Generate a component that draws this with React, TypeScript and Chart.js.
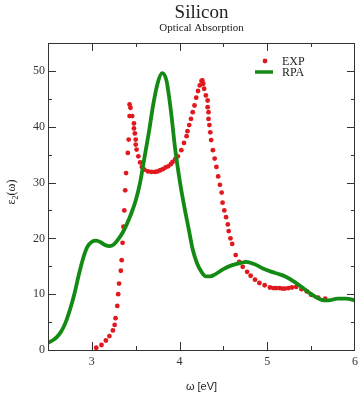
import React, { useEffect, useRef } from "react";
import { Chart, registerables } from "chart.js";
Chart.register(...registerables);

const expX = [3.05, 3.11, 3.16, 3.2, 3.24, 3.26, 3.27, 3.29, 3.3, 3.31, 3.33, 3.34, 3.35, 3.36, 3.37, 3.38, 3.39, 3.41, 3.42, 3.43, 3.43, 3.44, 3.46, 3.48, 3.48, 3.49, 3.5, 3.5, 3.51, 3.53, 3.55, 3.57, 3.6, 3.64, 3.68, 3.72, 3.75, 3.78, 3.81, 3.84, 3.87, 3.9, 3.92, 3.95, 3.98, 4.02, 4.05, 4.08, 4.09, 4.11, 4.13, 4.15, 4.17, 4.19, 4.21, 4.23, 4.25, 4.26, 4.27, 4.28, 4.3, 4.32, 4.32, 4.33, 4.33, 4.34, 4.35, 4.36, 4.38, 4.4, 4.42, 4.44, 4.46, 4.48, 4.49, 4.51, 4.53, 4.55, 4.56, 4.58, 4.6, 4.64, 4.68, 4.72, 4.77, 4.81, 4.86, 4.91, 4.97, 5.03, 5.07, 5.1, 5.14, 5.17, 5.2, 5.24, 5.28, 5.33, 5.39, 5.45, 5.5, 5.58, 5.66];
const expY = [0.4, 0.9, 1.7, 2.5, 3.5, 4.5, 5.7, 7.9, 10, 11.9, 14.2, 16.1, 19.2, 22.1, 25, 28.6, 31.7, 35.3, 37.7, 41.9, 44, 43.4, 41.9, 40.6, 39.7, 38.8, 37.7, 36.8, 35.9, 34.7, 33.6, 32.8, 32.3, 32, 31.9, 31.9, 32, 32.2, 32.4, 32.7, 32.9, 33.3, 33.7, 34.2, 34.7, 35.8, 37.1, 38.3, 39.2, 40.3, 41.4, 42.6, 43.8, 45.2, 46.4, 47.4, 48.2, 48.3, 47.7, 46.8, 45.6, 44.7, 43.5, 42.6, 41.4, 40.3, 39, 37.6, 35.8, 34.3, 32.8, 31.1, 29.6, 28.2, 26.4, 25, 23.8, 22.5, 21.3, 20, 19, 17, 15.8, 14.9, 14, 13.3, 12.6, 12, 11.6, 11.2, 11.1, 11.1, 11.1, 11.0, 11.0, 11.1, 11.2, 11.3, 10.9, 10.5, 9.9, 9.4, 9.2];

const rpaX = [2.5, 2.55, 2.6, 2.65, 2.7, 2.75, 2.8, 2.85, 2.9, 2.95, 3.0, 3.05, 3.1, 3.15, 3.2, 3.25, 3.3, 3.35, 3.4, 3.45, 3.5, 3.55, 3.6, 3.65, 3.7, 3.75, 3.8, 3.85, 3.9, 3.95, 4.0, 4.05, 4.1, 4.15, 4.2, 4.25, 4.3, 4.35, 4.4, 4.5, 4.6, 4.7, 4.76, 4.85, 4.95, 5.05, 5.15, 5.2, 5.3, 5.4, 5.5, 5.6, 5.65, 5.7, 5.8, 5.9, 6.0];
const rpaY = [1.3, 1.7, 2.3, 3.3, 4.9, 7.2, 10, 13.4, 16.4, 18.5, 19.4, 19.6, 19.3, 18.8, 18.6, 18.9, 19.8, 21, 22.6, 24.5, 26.8, 30, 34.5, 39, 44, 47.8, 49.6, 48.3, 43, 36, 30.5, 26, 22, 18, 15.5, 14, 13.2, 13.2, 13.5, 14.5, 15.2, 15.6, 15.8, 15.4, 14.6, 14, 13.5, 13.2, 12.3, 11.2, 10, 9.1, 8.9, 8.9, 9.2, 9.2, 8.9];

const xTicks = [3, 4, 5, 6];
const yTicks = [0, 10, 20, 30, 40, 50];
const xMinor = [3.5, 4.5, 5.5];
const yMinor = [5, 15, 25, 35, 45];

const RED = "#e0191e";
const GREEN = "#138a13";
const AXIS = "#333";
const SERIF = "'Liberation Serif', 'DejaVu Serif', serif";

export default function App() {
  const ref = useRef<HTMLCanvasElement>(null);
  useEffect(() => {
    document.body.style.margin = "0";
    const deco = {
      id: "deco",
      afterDraw(chart: any) {
        const { ctx, chartArea: a, scales } = chart;
        const xs = scales.x, ys = scales.y;
        ctx.save();
        ctx.strokeStyle = AXIS;
        ctx.lineWidth = 1;
        ctx.strokeRect(a.left + 0.5, a.top + 0.5, a.right - a.left - 1, a.bottom - a.top);
        ctx.beginPath();
        const tx = (v: number, len: number) => {
          const p = Math.round(xs.getPixelForValue(v)) + 0.5;
          ctx.moveTo(p, a.bottom); ctx.lineTo(p, a.bottom - len);
          ctx.moveTo(p, a.top); ctx.lineTo(p, a.top + len);
        };
        const ty = (v: number, len: number) => {
          const p = Math.round(ys.getPixelForValue(v)) + 0.5;
          ctx.moveTo(a.left, p); ctx.lineTo(a.left + len, p);
          ctx.moveTo(a.right, p); ctx.lineTo(a.right - len, p);
        };
        xTicks.filter((v) => v < 6).forEach((v) => tx(v, 8));
        xMinor.forEach((v) => tx(v, 4));
        yTicks.filter((v) => v > 0).forEach((v) => ty(v, 8));
        yMinor.forEach((v) => ty(v, 4));
        ctx.stroke();

        // titles
        const cx = (a.left + a.right) / 2;
        ctx.fillStyle = "#222";
        ctx.textAlign = "center";
        ctx.textBaseline = "alphabetic";
        ctx.font = `19px ${SERIF}`;
        ctx.fillText("Silicon", cx, 18);
        ctx.font = `11px ${SERIF}`;
        ctx.fillText("Optical Absorption", cx, 31);

        // legend
        ctx.fillStyle = RED;
        ctx.beginPath();
        ctx.arc(265, 61, 2.4, 0, Math.PI * 2);
        ctx.fill();
        ctx.strokeStyle = GREEN;
        ctx.lineWidth = 3.5;
        ctx.beginPath();
        ctx.moveTo(255, 72); ctx.lineTo(273, 72);
        ctx.stroke();
        ctx.fillStyle = "#222";
        ctx.textAlign = "left";
        ctx.font = `12px ${SERIF}`;
        ctx.fillText("EXP", 282, 65);
        ctx.fillText("RPA", 282, 76);

        // x label
        ctx.textAlign = "center";
        ctx.font = "11px 'Liberation Sans', Arial, sans-serif";
        ctx.fillText("ω [eV]", cx, 390);

        // y label
        ctx.save();
        ctx.translate(15, 192);
        ctx.rotate(-Math.PI / 2);
        ctx.textAlign = "left";
        ctx.font = `12px ${SERIF}`;
        const w1 = ctx.measureText("ε").width;
        const w3 = ctx.measureText("(ω)").width;
        ctx.font = `8px ${SERIF}`;
        const w2 = ctx.measureText("2").width;
        const total = w1 + w2 + w3;
        let x0 = -total / 2;
        ctx.font = `12px ${SERIF}`;
        ctx.fillText("ε", x0, 0);
        x0 += w1;
        ctx.font = `8px ${SERIF}`;
        ctx.fillText("2", x0, 3);
        x0 += w2;
        ctx.font = `12px ${SERIF}`;
        ctx.fillText("(ω)", x0, 0);
        ctx.restore();
        ctx.restore();
      },
    };

    const chart = new Chart(ref.current!, {
      type: "scatter",
      data: {
        datasets: [
          {
            type: "line",
            label: "RPA",
            data: rpaX.map((x, i) => ({ x, y: rpaY[i] })),
            borderColor: GREEN,
            borderWidth: 3.8,
            pointRadius: 0,
            cubicInterpolationMode: "monotone",
            fill: false,
          } as any,
          {
            label: "EXP",
            data: expX.map((x, i) => ({ x, y: expY[i] })),
            backgroundColor: RED,
            borderWidth: 0,
            pointRadius: 2.4,
            showLine: false,
          },
        ],
      },
      plugins: [deco],
      options: {
        animation: false,
        responsive: false,
        maintainAspectRatio: false,
        layout: { padding: { top: 43, right: 9, left: 0, bottom: 0 } },
        plugins: { legend: { display: false }, title: { display: false }, tooltip: { enabled: false } },
        scales: {
          x: {
            type: "linear",
            min: 2.5,
            max: 6,
            grid: { display: false, drawTicks: false },
            border: { display: false },
            afterBuildTicks: (s: any) => { s.ticks = xTicks.map((v) => ({ value: v })); },
            afterFit: (s: any) => { s.height = 46; },
            ticks: { padding: 5, color: "#333", font: { family: SERIF, size: 12 }, maxRotation: 0 },
          },
          y: {
            type: "linear",
            min: 0,
            max: 55,
            grid: { display: false, drawTicks: false },
            border: { display: false },
            afterBuildTicks: (s: any) => { s.ticks = yTicks.map((v) => ({ value: v })); },
            afterFit: (s: any) => { s.width = 48; },
            ticks: { padding: 3, color: "#333", font: { family: SERIF, size: 12 } },
          },
        },
      },
    });
    return () => chart.destroy();
  }, []);
  return (
    <div style={{ position: "absolute", left: 0, top: 0, width: 364, height: 396 }}>
      <canvas ref={ref} width={364} height={396} style={{ width: 364, height: 396 }} />
    </div>
  );
}
